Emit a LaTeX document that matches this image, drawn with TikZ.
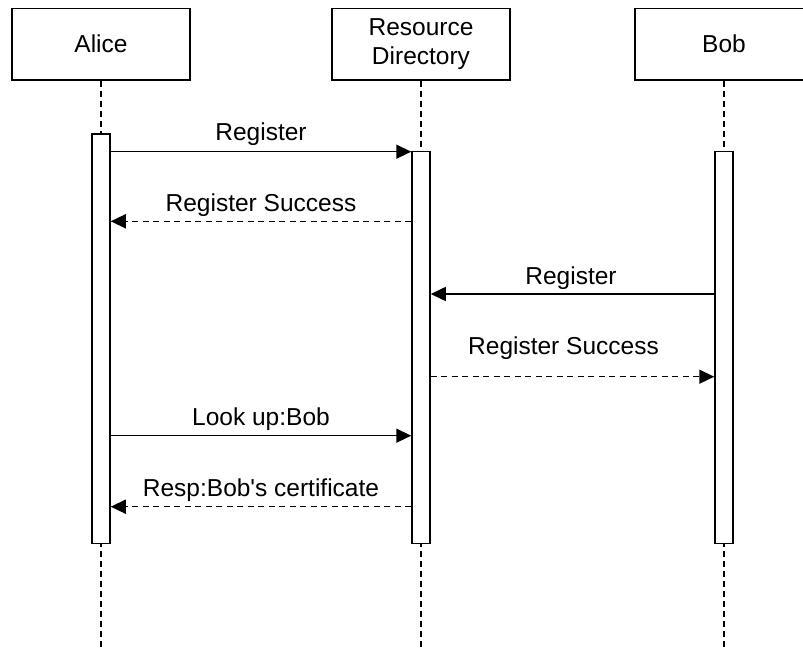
\documentclass[tikz,border=0pt]{standalone}
\usepackage{fontspec}
\setmainfont{Liberation Sans}[Ligatures=TeXOff]
\usetikzlibrary{arrows.meta}
\begin{document}
\begin{tikzpicture}[x=1pt,y=-1pt,
  txt/.style={font=\fontsize{24.5pt}{29.4pt}\selectfont},
  actor/.style={txt, draw, line width=1.5pt, fill=white, minimum width=178.4pt,
    minimum height=71.7pt, inner sep=0pt, align=center},
  life/.style={line width=1.5pt, dash pattern=on 6pt off 4pt},
  bar/.style={draw, line width=1.5pt, fill=white, minimum width=18pt,
    inner sep=0pt, anchor=north},
  msg/.style={line width=1.5pt, -{Triangle[length=15pt,width=14pt]}},
  reply/.style={msg, dash pattern=on 6pt off 4.5pt},
  lbl/.style={txt, anchor=base, inner sep=0pt}
]
\clip (0,0) rectangle (803,650);
\fill[white] (0,0) rectangle (803,650);

% participants
\node[actor] (alice) at (101,44.2) {Alice};
\node[actor] (rd)    at (421,44.2) {Resource\\Directory};
\node[actor] (bob)   at (724,44.2) {Bob};

% lifelines
\coordinate (floor) at (0,650);
\draw[life] (alice.south) -- (alice.south |- floor);
\draw[life] (rd.south)    -- (rd.south |- floor);
\draw[life] (bob.south)   -- (bob.south |- floor);

% activation bars
\node[bar, minimum height=409.4pt] (ba) at (101,133.3) {};
\node[bar, minimum height=392pt]   (br) at (421,150.7) {};
\node[bar, minimum height=392pt]   (bb) at (724,150.7) {};

% message rows
\coordinate (m1) at (0,151.7);
\coordinate (m2) at (0,221.3);
\coordinate (m3) at (0,294);
\coordinate (m4) at (0,376.7);
\coordinate (m5) at (0,435.7);
\coordinate (m6) at (0,506.7);

\draw[msg]   (ba.east |- m1) -- node[lbl, yshift=11pt] {Register} (br.west |- m1);
\draw[reply] (br.west |- m2) -- node[lbl, yshift=9.6pt] {Register Success} (ba.east |- m2);
\draw[msg]   (bb.west |- m3) -- node[lbl, yshift=9.7pt, xshift=-1.5pt] {Register} (br.east |- m3);
\draw[reply] (br.east |- m4) -- node[lbl, yshift=22.4pt, xshift=-9pt] {Register Success} (bb.west |- m4);
\draw[msg]   (ba.east |- m5) -- node[lbl, yshift=10pt] {Look up:Bob} (br.west |- m5);
\draw[reply] (br.west |- m6) -- node[lbl, yshift=10pt] {Resp:Bob's certificate} (ba.east |- m6);
\end{tikzpicture}
\end{document}
